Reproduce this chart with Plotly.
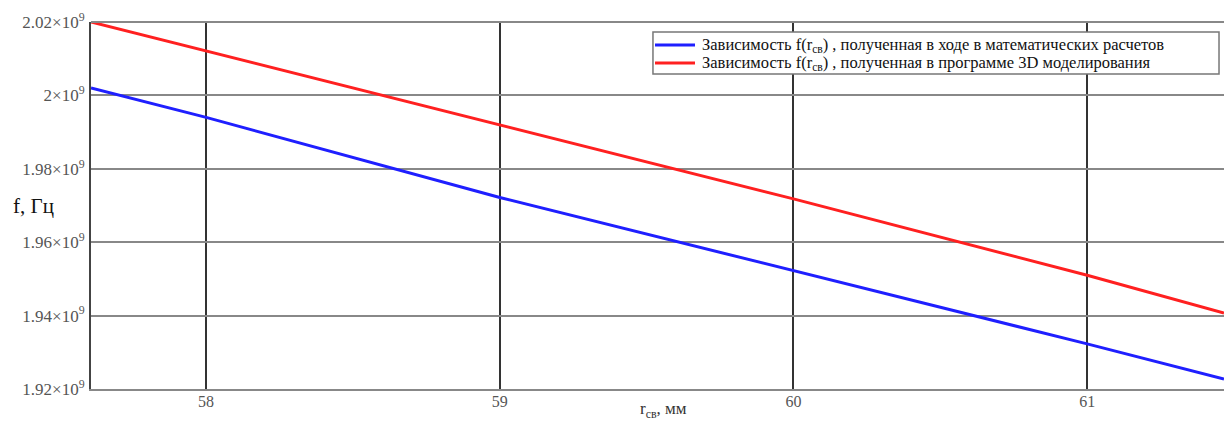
import plotly.graph_objects as go

# Data
r_mm = [57.608, 58.0, 59.0, 60.0, 61.0, 61.466]
f_math = [2.0020e9, 1.9940e9, 1.9722e9, 1.9522e9, 1.9323e9, 1.9227e9]
f_3d = [2.0200e9, 2.0121e9, 1.9919e9, 1.9718e9, 1.9510e9, 1.9407e9]

y_ticks = [1.92e9, 1.94e9, 1.96e9, 1.98e9, 2.00e9, 2.02e9]
y_labels = ["1.92×10<sup>9</sup>", "1.94×10<sup>9</sup>", "1.96×10<sup>9</sup>",
            "1.98×10<sup>9</sup>", "2×10<sup>9</sup>", "2.02×10<sup>9</sup>"]
x_ticks = [58, 59, 60, 61]
x_labels = ["58", "59", "60", "61"]

name_math = "Зависимость f(r<sub>св</sub>) , полученная в ходе в математических расчетов"
name_3d = "Зависимость f(r<sub>св</sub>) , полученная в программе 3D моделирования"

serif = "Liberation Serif"
c_math = "#1f1fff"
c_3d = "#ff2020"

fig = go.Figure()
fig.add_trace(go.Scatter(x=r_mm, y=f_math, mode="lines", name=name_math,
                         line=dict(color=c_math, width=3)))
fig.add_trace(go.Scatter(x=r_mm, y=f_3d, mode="lines", name=name_3d,
                         line=dict(color=c_3d, width=3)))

# legend drawn as a framed box (paper coordinates)
lx0, lx1, ly0, ly1 = 0.496, 0.9956, 0.858, 0.973
row_y = [0.937, 0.888]
sx0, sx1, tx = 0.4978, 0.5331, 0.5375

shapes = [
    dict(type="line", xref="paper", yref="paper", x0=0, x1=1, y0=1, y1=1,
         line=dict(color="#888", width=2)),
    dict(type="rect", xref="paper", yref="paper", x0=lx0, x1=lx1, y0=ly0, y1=ly1,
         fillcolor="white", line=dict(color="#777", width=1.5), layer="above"),
]
annotations = [
    dict(text="f, Гц", xref="paper", yref="paper", x=-0.051, y=0.50,
         xanchor="center", yanchor="middle", showarrow=False,
         font=dict(family=serif, size=21, color="#111")),
    dict(text="r<sub>св</sub>, мм", xref="paper", yref="paper", x=0.505, y=-0.058,
         xanchor="center", yanchor="middle", showarrow=False,
         font=dict(family=serif, size=17, color="#333")),
]
for name, col, yy in [(name_math, c_math, row_y[0]), (name_3d, c_3d, row_y[1])]:
    shapes.append(dict(type="line", xref="paper", yref="paper", x0=sx0, x1=sx1,
                       y0=yy, y1=yy, line=dict(color=col, width=3), layer="above"))
    annotations.append(dict(text=name, xref="paper", yref="paper", x=tx, y=yy,
                            xanchor="left", yanchor="middle", showarrow=False,
                            font=dict(family=serif, size=16.5, color="#111")))

fig.update_layout(
    width=1224, height=423,
    margin=dict(l=91, r=0, t=22, b=34, autoexpand=False),
    paper_bgcolor="white", plot_bgcolor="white",
    font=dict(family=serif, size=15, color="#444"),
    showlegend=False,
    xaxis=dict(range=[57.608, 61.466], tickvals=x_ticks, ticktext=x_labels,
               showgrid=True, gridcolor="#333", gridwidth=1.5,
               zeroline=False, showline=True, linecolor="#888", linewidth=2,
               mirror=False, ticks="", ticklabelstandoff=-3, automargin=False,
               tickfont=dict(family=serif, size=16, color="#555")),
    yaxis=dict(range=[1.92e9, 2.02e9], tickvals=y_ticks, ticktext=y_labels,
               showgrid=True, gridcolor="#888", gridwidth=1.5,
               zeroline=False, showline=True, linecolor="#444", linewidth=2,
               ticks="", ticklabelstandoff=1, automargin=False,
               tickfont=dict(family=serif, size=17, color="#555")),
    shapes=shapes,
    annotations=annotations,
)

fig.write_html("out.html", config={"displayModeBar": False},
               post_script="document.body.style.margin='0px';document.body.style.overflow='hidden';")
